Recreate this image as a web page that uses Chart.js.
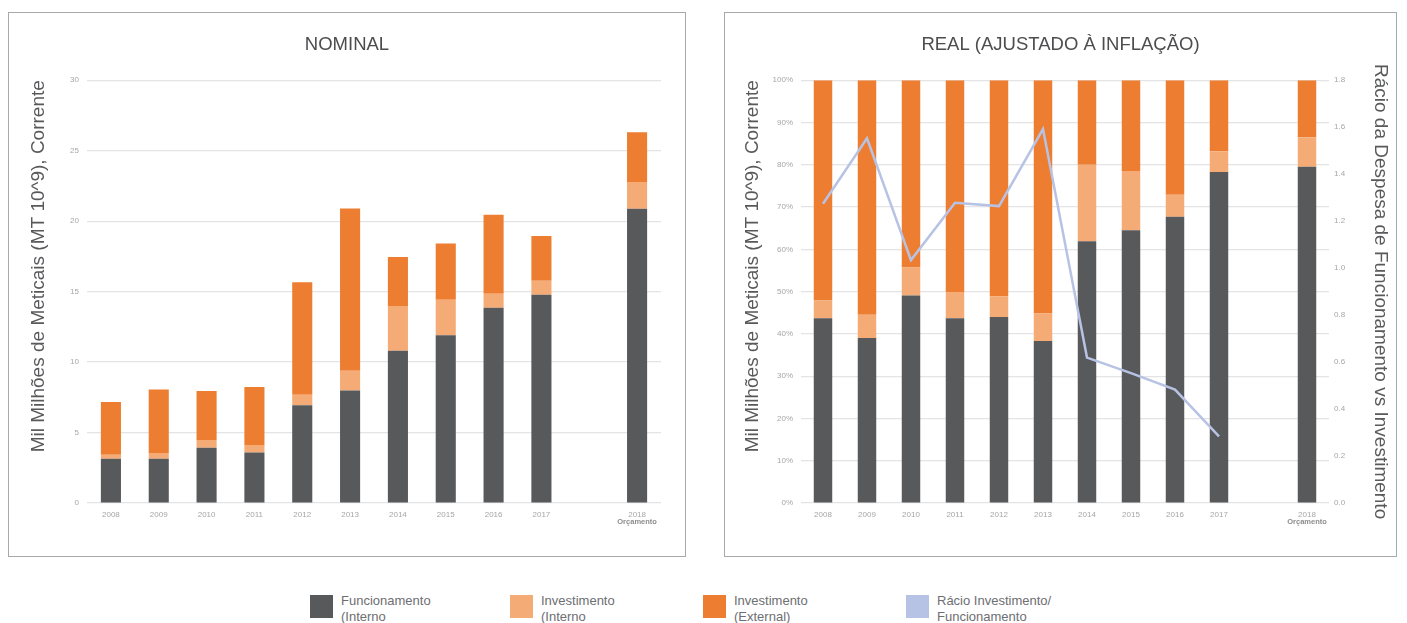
<!DOCTYPE html>
<html>
<head>
<meta charset="utf-8">
<script src="https://cdn.jsdelivr.net/npm/chart.js@4"></script>
<style>
body { margin: 0; background: #fff; font-family: "Liberation Sans", Arial, sans-serif; }
.panel { position: absolute; top: 12px; height: 543px; border: 1px solid #a7a9ac; }
#p1 { left: 8px; width: 676px; }
#p2 { left: 724px; width: 671px; }
.legend-item { position: absolute; top: 595px; }
.legend-item .box { position: absolute; left: 0; top: 0; width: 23px; height: 23px; }
.legend-item .txt { position: absolute; left: 31px; top: -2px; width: 160px; font-size: 13px; line-height: 16px; color: #6d6e71; }
</style>
</head>
<body>
<div class="panel" id="p1"><canvas id="nominal"></canvas></div>
<div class="panel" id="p2"><canvas id="real"></canvas></div>
<div id="legend"></div>

<script>
// anos (a coluna vazia separa o orçamento de 2018)
const years = ["2008", "2009", "2010", "2011", "2012", "2013", "2014", "2015", "2016", "2017", "", "2018"]
const budgetYear = "2018"
const budgetNote = "Orçamento"

// nominal, mil milhões MT
const nomFuncionamento = [3.14, 3.14, 3.92, 3.59, 6.93, 7.99, 10.8, 11.91, 13.85, 14.78, null, 20.87]
const nomInvInterno = [0.29, 0.41, 0.55, 0.52, 0.75, 1.40, 3.17, 2.51, 1.00, 0.99, null, 1.90]
const nomInvExterno = [3.73, 4.51, 3.47, 4.12, 7.99, 11.51, 3.48, 4.00, 5.60, 3.17, null, 3.54]

// real, % do total
const realFuncionamento = [43.7, 39.0, 49.1, 43.7, 44.0, 38.3, 61.9, 64.5, 67.7, 78.3, null, 79.5]
const realInvInterno = [4.2, 5.5, 6.6, 6.2, 4.9, 6.5, 18.1, 14.0, 5.2, 4.9, null, 7.0]
const realInvExterno = [52.1, 55.5, 44.3, 50.1, 51.1, 55.2, 20.0, 21.5, 27.1, 16.8, null, 13.5]

// rácio investimento / funcionamento
const racio = [1.274, 1.553, 1.034, 1.278, 1.264, 1.592, 0.619, 0.553, 0.483, 0.284, null, null]

const legendLabels = [
	["Funcionamento", "(Interno"],
	["Investimento", "(Interno"],
	["Investimento", "(External)"],
	["Rácio Investimento/", "Funcionamento"]
]

const colors = {
	func: "#58595b",
	invInt: "#f4ab76",
	invExt: "#ed7d31",
	racio: "#b7c3e4"
}

const font = '"Liberation Sans", Arial, sans-serif'
const tickFont = { family: font, size: 8 }
const tickColor = "#a6a6a6"
const gridColor = "#e4e4e4"
const axisTitle = "Mil Milhões de Meticais (MT 10^9), Corrente"

// legenda em html
const legendX = [310, 510, 703, 906]
const legendColors = [colors.func, colors.invInt, colors.invExt, colors.racio]
const legendEl = document.getElementById("legend")
legendLabels.forEach((lines, i) => {
	const item = document.createElement("div")
	item.className = "legend-item"
	item.style.left = legendX[i] + "px"
	item.innerHTML = '<div class="box" style="background:' + legendColors[i] + '"></div>' +
		'<div class="txt">' + lines.join("<br>") + '</div>'
	legendEl.appendChild(item)
})

// "Orçamento" em negrito debaixo de 2018
const budgetLabel = {
	id: "budgetLabel",
	afterDraw(chart) {
		const x = chart.scales.x
		const ctx = chart.ctx
		ctx.save()
		ctx.font = "bold 7.5px " + font
		ctx.fillStyle = "#8c8c8c"
		ctx.textAlign = "center"
		ctx.textBaseline = "middle"
		ctx.fillText(budgetNote, x.getPixelForValue(years.indexOf(budgetYear)), x.top + 19)
		ctx.restore()
	}
}

function barSet(label, data, color) {
	return {
		type: "bar",
		label: label,
		data: data,
		backgroundColor: color,
		barPercentage: 0.42,
		categoryPercentage: 1,
		order: 1,
		yAxisID: "y"
	}
}

function titleOpts(text) {
	return {
		display: true,
		text: text,
		color: "#4d4d4f",
		font: { family: font, size: 18.5, weight: "normal" },
		padding: { top: 21, bottom: 24 }
	}
}

const xScale = {
	stacked: true,
	grid: { display: false, drawTicks: false },
	border: { display: false },
	ticks: { color: tickColor, font: tickFont, padding: 7, maxRotation: 0, autoSkip: false },
	afterFit(scale) { scale.height = 53 }
}

new Chart(document.getElementById("nominal"), {
	data: {
		labels: years,
		datasets: [
			barSet("Funcionamento (Interno", nomFuncionamento, colors.func),
			barSet("Investimento (Interno", nomInvInterno, colors.invInt),
			barSet("Investimento (External)", nomInvExterno, colors.invExt)
		]
	},
	options: {
		responsive: true,
		maintainAspectRatio: false,
		animation: false,
		layout: { padding: { left: 24, right: 24, top: 0, bottom: 0 } },
		plugins: {
			legend: { display: false },
			tooltip: { enabled: false },
			title: titleOpts("NOMINAL")
		},
		scales: {
			x: xScale,
			y: {
				stacked: true,
				min: 0,
				max: 30,
				ticks: { stepSize: 5, color: tickColor, font: tickFont, padding: 8 },
				grid: { color: gridColor, lineWidth: 1.2, drawTicks: false },
				border: { display: false },
				title: {
					display: true,
					text: axisTitle,
					align: "end",
					color: "#58595b",
					font: { family: font, size: 19 },
					padding: { top: -6, bottom: 0 }
				},
				afterFit(scale) { scale.width = 54 }
			}
		}
	},
	plugins: [budgetLabel]
})

new Chart(document.getElementById("real"), {
	data: {
		labels: years,
		datasets: [
			{
				type: "line",
				label: "Rácio Investimento/Funcionamento",
				data: racio,
				borderColor: colors.racio,
				borderWidth: 2.5,
				pointRadius: 0,
				tension: 0,
				order: 0,
				yAxisID: "y1"
			},
			barSet("Funcionamento (Interno", realFuncionamento, colors.func),
			barSet("Investimento (Interno", realInvInterno, colors.invInt),
			barSet("Investimento (External)", realInvExterno, colors.invExt)
		]
	},
	options: {
		responsive: true,
		maintainAspectRatio: false,
		animation: false,
		layout: { padding: 0 },
		plugins: {
			legend: { display: false },
			tooltip: { enabled: false },
			title: titleOpts("REAL (AJUSTADO À INFLAÇÃO)")
		},
		scales: {
			x: xScale,
			y: {
				stacked: true,
				min: 0,
				max: 100,
				ticks: { stepSize: 10, color: tickColor, font: tickFont, padding: 8, callback: v => v + "%" },
				grid: { color: gridColor, lineWidth: 1.2, drawTicks: false },
				border: { display: false },
				title: {
					display: true,
					text: axisTitle,
					align: "end",
					color: "#58595b",
					font: { family: font, size: 19 },
					padding: { top: 16, bottom: 0 }
				},
				afterFit(scale) { scale.width = 76 }
			},
			y1: {
				position: "right",
				min: 0,
				max: 1.8,
				ticks: { stepSize: 0.2, color: tickColor, font: tickFont, padding: 5, callback: v => v.toFixed(1) },
				grid: { display: false, drawTicks: false },
				border: { display: false },
				title: {
					display: true,
					text: "Rácio da Despesa de Funcionamento vs Investimento",
					color: "#58595b",
					font: { family: font, size: 19 },
					padding: { top: 4, bottom: 0 }
				},
				afterFit(scale) { scale.width = 67 }
			}
		}
	},
	plugins: [budgetLabel]
})
</script>
</body>
</html>
